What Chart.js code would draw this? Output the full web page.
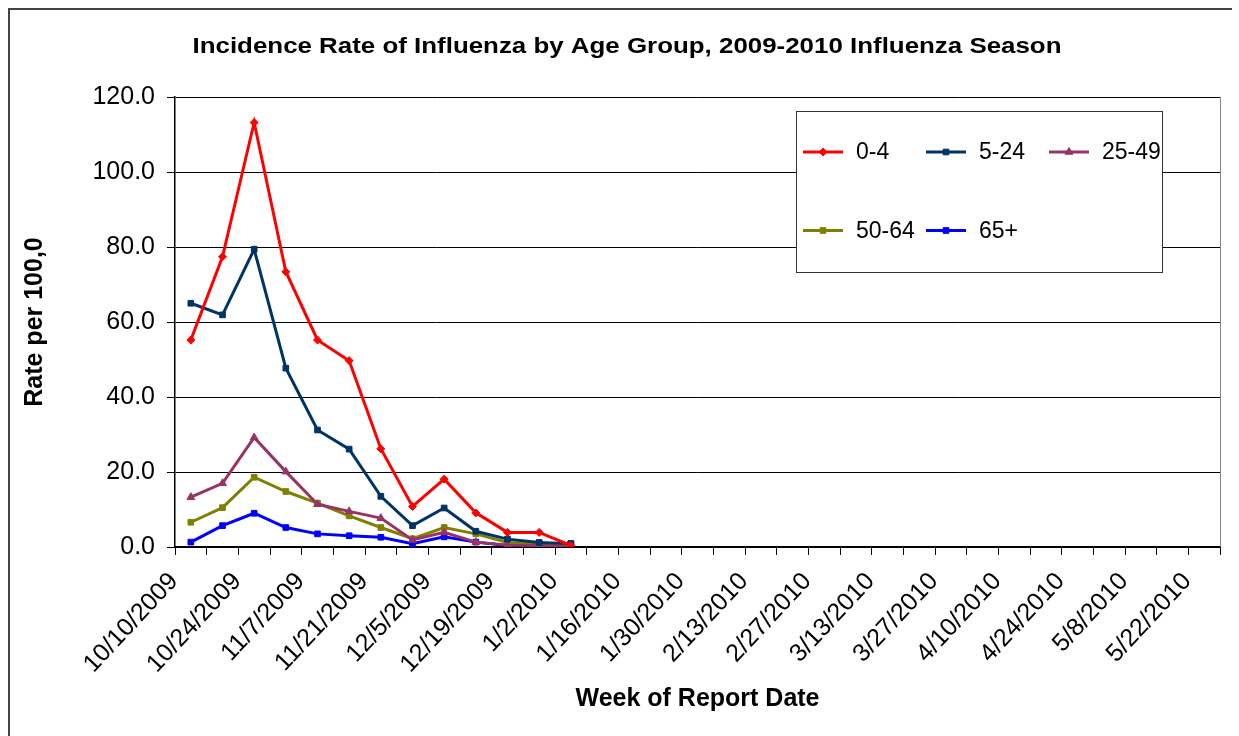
<!DOCTYPE html>
<html>
<head>
<meta charset="utf-8">
<script src="https://cdn.jsdelivr.net/npm/chart.js@4.4.0/dist/chart.umd.min.js"></script>
<style>
  html, body { margin: 0; padding: 0; background: #fff; }
  #wrap { position: relative; width: 1239px; height: 736px; overflow: hidden; }
  #frame { position: absolute; left: 8px; top: 8px; width: 1222px; height: 740px;
           border-left: 2px solid #444; border-top: 2px solid #444; }
  canvas { position: absolute; left: 0; top: 0; }
</style>
</head>
<body>
<div id="wrap">
  <div id="frame"></div>
  <canvas id="chart" width="1239" height="736"></canvas>
</div>
<script>
// week of report date (33 weeks)
const weeks = [
  '10/10/2009', '10/17/2009', '10/24/2009', '10/31/2009', '11/7/2009', '11/14/2009',
  '11/21/2009', '11/28/2009', '12/5/2009', '12/12/2009', '12/19/2009', '12/26/2009',
  '1/2/2010', '1/9/2010', '1/16/2010', '1/23/2010', '1/30/2010', '2/6/2010',
  '2/13/2010', '2/20/2010', '2/27/2010', '3/6/2010', '3/13/2010', '3/20/2010',
  '3/27/2010', '4/3/2010', '4/10/2010', '4/17/2010', '4/24/2010', '5/1/2010',
  '5/8/2010', '5/15/2010', '5/22/2010'
];

// rate per 100,000 by age group (weeks not yet reported are null)
const age0to4   = [55.2, 77.4, 113.2, 73.4, 55.2, 49.7, 26.2, 10.8, 18.1, 9.1, 3.9, 3.9, 0.4];
const age5to24  = [65.0, 61.9, 79.4, 47.7, 31.2, 26.1, 13.5, 5.7, 10.4, 4.2, 2.1, 1.2, 0.9];
const age25to49 = [13.3, 17.0, 29.2, 20.1, 11.4, 9.5, 7.7, 1.9, 3.9, 1.3, 0.5, 0.4, 0.2];
const age50to64 = [6.6, 10.5, 18.6, 14.8, 11.7, 8.3, 5.2, 2.2, 5.2, 3.5, 1.2, 1.1, 0.7];
const age65plus = [1.3, 5.7, 9.0, 5.2, 3.5, 3.0, 2.6, 0.9, 2.7, 1.3, 0.4, 0.9, 0.9];

const yTicks = [0, 20, 40, 60, 80, 100, 120];

const FONT = "'Liberation Sans', Arial, sans-serif";

function pad(values) {
  return weeks.map((w, i) => (i < values.length ? values[i] : null));
}

function series(label, values, color, pointStyle, radius) {
  return {
    label: label,
    data: pad(values),
    borderColor: color,
    backgroundColor: color,
    borderWidth: 3,
    pointStyle: pointStyle,
    pointRadius: radius,
    pointHoverRadius: radius,
    pointBorderWidth: 1,
    tension: 0,
    spanGaps: false
  };
}

// chart title, stretched to the width it has in the original
const titlePlugin = {
  id: 'titlePlugin',
  afterDraw(chart) {
    const ctx = chart.ctx;
    const text = 'Incidence Rate of Influenza by Age Group, 2009-2010 Influenza Season';
    ctx.save();
    ctx.fillStyle = '#000';
    ctx.font = 'bold 22px ' + FONT;
    ctx.textAlign = 'center';
    ctx.textBaseline = 'middle';
    const w = ctx.measureText(text).width;
    ctx.translate(627, 47);
    ctx.scale(869 / w, 1);
    ctx.fillText(text, 0, 0);
    ctx.restore();
  }
};

// grey right edge of the plot area
const plotFrame = {
  id: 'plotFrame',
  beforeDatasetsDraw(chart) {
    const a = chart.chartArea;
    const ctx = chart.ctx;
    ctx.save();
    ctx.strokeStyle = '#888';
    ctx.lineWidth = 1;
    ctx.beginPath();
    ctx.moveTo(a.right + 0.5, a.top);
    ctx.lineTo(a.right + 0.5, a.bottom);
    ctx.stroke();
    ctx.restore();
  }
};

// boxed legend, three items per row
const legendBox = {
  id: 'legendBox',
  afterDraw(chart) {
    const ctx = chart.ctx;
    ctx.save();
    ctx.fillStyle = '#fff';
    ctx.fillRect(796, 111, 366, 161);
    ctx.strokeStyle = '#333';
    ctx.lineWidth = 1;
    ctx.strokeRect(796.5, 111.5, 366, 161);
    ctx.font = '23px ' + FONT;
    ctx.textBaseline = 'middle';
    ctx.textAlign = 'left';
    chart.data.datasets.forEach((ds, i) => {
      const col = i % 3, row = Math.floor(i / 3);
      const x = 803 + col * 123, y = 152 + row * 78.5;
      ctx.strokeStyle = ds.borderColor;
      ctx.lineWidth = 3;
      ctx.beginPath();
      ctx.moveTo(x, y);
      ctx.lineTo(x + 40, y);
      ctx.stroke();
      ctx.fillStyle = ds.borderColor;
      ctx.strokeStyle = ds.borderColor;
      ctx.lineWidth = 1;
      Chart.helpers.drawPoint(ctx, {
        pointStyle: ds.pointStyle, radius: ds.pointRadius, rotation: 0, borderWidth: 1
      }, x + 20, y);
      ctx.fillStyle = '#000';
      ctx.fillText(ds.label, x + 53, y + 1);
    });
    ctx.restore();
  }
};

new Chart(document.getElementById('chart'), {
  type: 'line',
  data: {
    labels: weeks,
    datasets: [
      series('0-4', age0to4, '#ff0000', 'rectRot', 4),
      series('5-24', age5to24, '#003366', 'rect', 4),
      series('25-49', age25to49, '#993366', 'triangle', 4.5),
      series('50-64', age50to64, '#808000', 'rect', 4),
      series('65+', age65plus, '#0000ff', 'rect', 4)
    ]
  },
  options: {
    responsive: false,
    animation: false,
    layout: { padding: { left: 16, right: 19, top: 97, bottom: 18 } },
    plugins: {
      legend: { display: false },
      title: { display: false },
      tooltip: { enabled: false }
    },
    scales: {
      x: {
        type: 'category',
        offset: true,
        afterFit(scale) { scale.height = 171; },
        grid: {
          offset: true,
          drawOnChartArea: false,
          drawTicks: true,
          tickLength: 8,
          color: '#000',
          lineWidth: 1
        },
        border: { display: true, color: '#000', width: 2 },
        ticks: {
          autoSkip: false,
          minRotation: 47,
          maxRotation: 47,
          padding: 12,
          labelOffset: -17,
          color: '#000',
          font: { family: FONT, size: 25 },
          callback(value, index) { return index % 2 === 0 ? weeks[index] : ''; }
        },
        title: {
          display: true,
          text: 'Week of Report Date',
          color: '#000',
          font: { family: FONT, size: 25, weight: 'bold' },
          padding: { top: 0, bottom: 4 }
        }
      },
      y: {
        min: 0,
        max: 120,
        afterFit(scale) { scale.width = 159; },
        afterBuildTicks(scale) { scale.ticks = yTicks.map(v => ({ value: v })); },
        grid: {
          color: '#000',
          lineWidth: 1,
          drawTicks: true,
          tickLength: 8
        },
        border: { display: true, color: '#000', width: 1.5 },
        ticks: {
          padding: 12,
          color: '#000',
          font: { family: FONT, size: 25 },
          callback(value) { return Number(value).toFixed(1); }
        },
        title: {
          display: true,
          text: 'Rate per 100,0',
          color: '#000',
          font: { family: FONT, size: 25, weight: 'bold' },
          padding: { top: 4, bottom: 8 }
        }
      }
    }
  },
  plugins: [titlePlugin, plotFrame, legendBox]
});
</script>
</body>
</html>
